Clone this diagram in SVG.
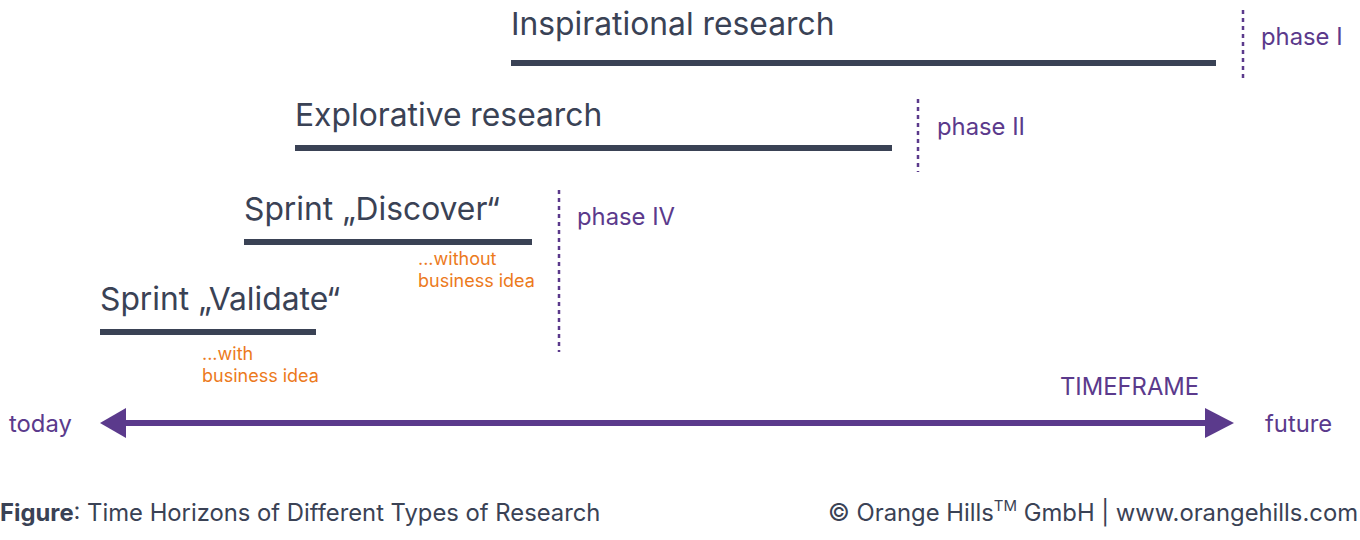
<svg xmlns="http://www.w3.org/2000/svg" width="1360" height="540" viewBox="0 0 1360 540">
<style>
text{font-family:Inter,"Noto Sans","Liberation Sans",sans-serif}
.t{fill:#3a4255;font-size:31.8px}
.p{fill:#5b3a8c;font-size:23.8px}
.o{fill:#ec7a1c;font-size:18px}
.f{fill:#3a4255;font-size:23.8px}
.bar{stroke:#3a4255;stroke-width:6}
.dot{stroke:#5b3a8c;stroke-width:2.5;stroke-dasharray:4 4}
</style>
<rect width="1360" height="540" fill="#fff"/>
<g id="inspirational">
<text class="t" x="511" y="35">Inspirational research</text>
<line class="bar" x1="511" y1="63" x2="1216" y2="63"/>
</g>
<g id="explorative">
<text class="t" x="295" y="126">Explorative research</text>
<line class="bar" x1="295" y1="148" x2="892" y2="148"/>
</g>
<g id="discover">
<text class="t" x="244" y="220">Sprint „Discover“</text>
<line class="bar" x1="244" y1="242" x2="532" y2="242"/>
<text class="o" x="418" y="265">...without</text>
<text class="o" x="418" y="287">business idea</text>
</g>
<g id="validate">
<text class="t" x="100" y="310">Sprint „Validate“</text>
<line class="bar" x1="100" y1="332" x2="316" y2="332"/>
<text class="o" x="202" y="360">...with</text>
<text class="o" x="202" y="382">business idea</text>
</g>
<g id="phase1">
<line class="dot" x1="1243" y1="10" x2="1243" y2="82"/>
<text class="p" x="1261" y="45">phase I</text>
</g>
<g id="phase2">
<line class="dot" x1="918" y1="99" x2="918" y2="172"/>
<text class="p" x="937" y="135">phase II</text>
</g>
<g id="phase4">
<line class="dot" x1="559" y1="190" x2="559" y2="352"/>
<text class="p" x="577" y="225">phase IV</text>
</g>
<g id="connectors">
<line x1="120" y1="423" x2="1214" y2="423" stroke="#5b3a8c" stroke-width="6"/>
<polygon points="100,423 126,408 126,438" fill="#5b3a8c"/>
<polygon points="1234,423 1205,408 1205,438" fill="#5b3a8c"/>
</g>
<g id="labels">
<text class="p" x="9" y="432">today</text>
<text class="p" x="1265" y="432">future</text>
<text class="p" x="1060" y="395">TIMEFRAME</text>
<text class="f" x="0" y="521"><tspan font-weight="bold">Figure</tspan>: Time Horizons of Different Types of Research</text>
<text class="f" x="1358" y="521" text-anchor="end">© Orange Hills<tspan dy="-10" font-size="15">TM</tspan><tspan dy="10"> GmbH | www.orangehills.com</tspan></text>
</g>
</svg>
